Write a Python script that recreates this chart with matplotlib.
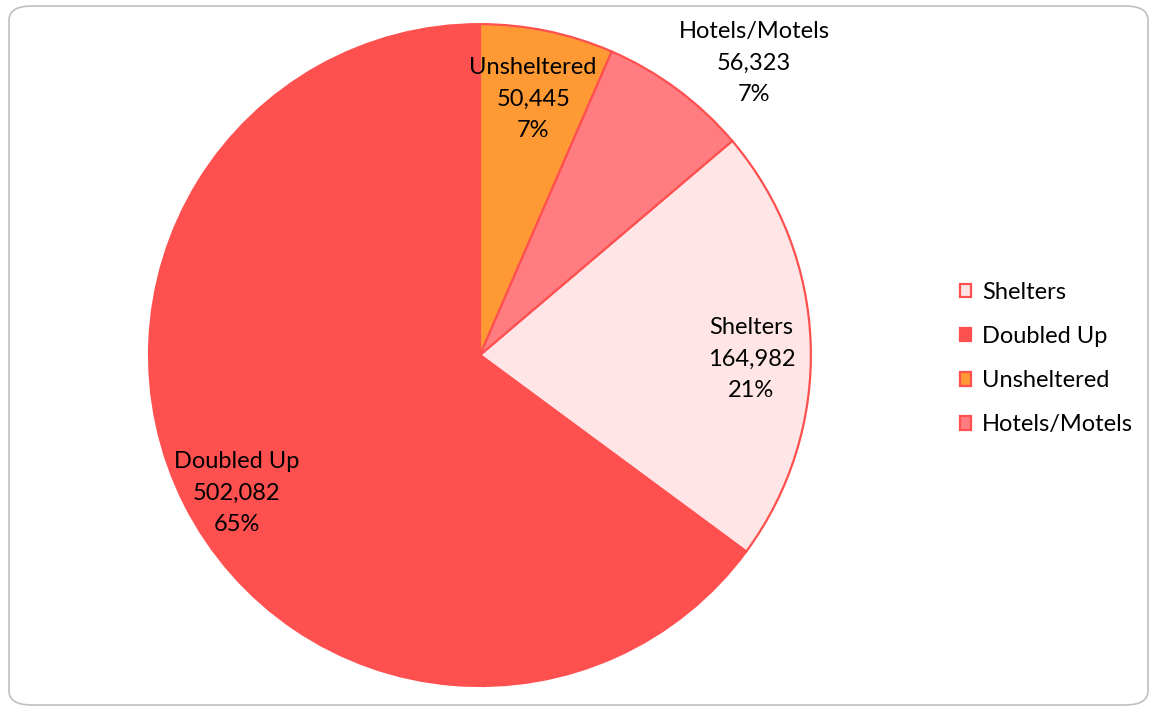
import numpy as np
import matplotlib
matplotlib.use("Agg")
import matplotlib.pyplot as plt
from matplotlib.patches import FancyBboxPatch

plt.rcParams['font.family'] = ['Lato', 'DejaVu Sans']

categories = ['Shelters', 'Doubled Up', 'Unsheltered', 'Hotels/Motels']
counts = [164982, 502082, 50445, 56323]
colors = ['#FFE5E5', '#FF5050', '#FF9933', '#FF7C80']
# label placement: radius fraction, extra angle (deg, counterclockwise)
label_r = [0.82, 0.845, 0.79, 1.21]
label_shift = [-2.8, 2.8, 0, -6.6]

fig = plt.figure(figsize=(11.51, 7.08), dpi=100)

# rounded chart frame, behind the pie
frame = FancyBboxPatch((9 / 1151, 3 / 708), 1139 / 1151, 699 / 708,
                       boxstyle="round,pad=0,rounding_size=0.02",
                       transform=fig.transFigure, facecolor='white',
                       edgecolor='#BFBFBF', linewidth=1.2, zorder=-10)
fig.add_artist(frame)

ax = fig.add_axes([0.1295, 0.031, 0.575, 0.935])
total = sum(counts)
start = 90 - 360 * (counts[2] + counts[3]) / total
wedges, _ = ax.pie(counts, colors=colors, startangle=start, counterclock=False,
                   wedgeprops=dict(edgecolor='#FF5050', linewidth=1.6))
ax.set_xlim(-1, 1)
ax.set_ylim(-1, 1)
ax.set_aspect('equal')

for w, name, n, r, sh in zip(wedges, categories, counts, label_r, label_shift):
    ang = np.deg2rad((w.theta1 + w.theta2) / 2 + sh)
    pct = round(100 * n / total)
    ax.text(r * np.cos(ang), r * np.sin(ang), f"{name}\n{n:,}\n{pct}%",
            ha='center', va='center', fontsize=17, linespacing=1.6,
            color='black')

fig.legend(wedges, categories, loc='center left',
           bbox_to_anchor=(0.8235, 0.4935), frameon=False, fontsize=17,
           handlelength=0.5, handleheight=0.5, handletextpad=0.45,
           labelspacing=0.98, borderpad=0)

fig.savefig('out.png', dpi=100)
